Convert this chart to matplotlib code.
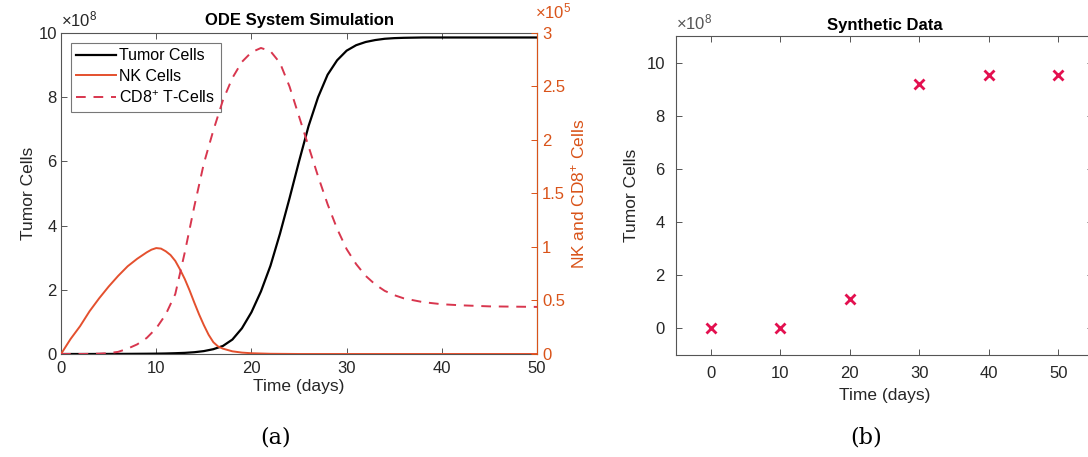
"""ODE simulation vs synthetic tumor data."""

import matplotlib
matplotlib.use("Agg")
import matplotlib.pyplot as plt

# simulation output (tumor in 1e8, NK / CD8 in 1e5)
days = list(range(0, 37)) + [38, 40, 42, 45, 50]
tumor = [0, 0, 0, 0, 0.001, 0.002, 0.003, 0.004, 0.006, 0.008,
         0.011, 0.016, 0.024, 0.035, 0.055, 0.09, 0.15, 0.25, 0.45, 0.8,
         1.3, 1.95, 2.75, 3.75, 4.85, 6.0, 7.1, 8.0, 8.7, 9.15,
         9.45, 9.62, 9.72, 9.78, 9.82, 9.84, 9.85, 9.86, 9.86, 9.86, 9.86, 9.86]
cd8 = [0, 0, 0, 0.001, 0.003, 0.008, 0.02, 0.05, 0.09, 0.15,
       0.24, 0.37, 0.56, 0.95, 1.38, 1.78, 2.09, 2.37, 2.58, 2.73,
       2.82, 2.86, 2.83, 2.72, 2.50, 2.22, 1.94, 1.66, 1.40, 1.17,
       0.98, 0.84, 0.73, 0.65, 0.59, 0.55, 0.52, 0.485, 0.465, 0.455, 0.445, 0.44]

# NK read on a finer grid around its peak
nk_days = [0, 1, 2, 3, 4, 5, 6, 7, 8, 8.5, 9, 9.5, 10, 10.5, 11, 11.5, 12,
           12.5, 13, 13.5, 14, 14.5, 15, 15.5, 16, 16.5, 17, 18, 19, 20,
           22, 25, 50]
nk = [0, 0.14, 0.26, 0.40, 0.52, 0.63, 0.73, 0.82, 0.89, 0.92, 0.95, 0.975,
      0.99, 0.985, 0.96, 0.925, 0.87, 0.79, 0.70, 0.595, 0.48, 0.37, 0.27,
      0.18, 0.11, 0.07, 0.05, 0.025, 0.013, 0.007, 0.002, 0, 0]

# synthetic observations (1e8)
obs_days = [0, 10, 20, 30, 40, 50]
obs_tumor = [0.0, 0.02, 1.1, 9.2, 9.55, 9.55]

plt.rcParams["font.family"] = ["Liberation Sans", "DejaVu Sans"]
plt.rcParams["mathtext.fontset"] = "custom"
plt.rcParams["mathtext.rm"] = "Liberation Sans"
plt.rcParams["mathtext.it"] = "Liberation Sans:italic"

AX_COL = "#555555"
TXT_COL = "#262626"
ORANGE = "#D95319"


def matlab_axes(ax, pad=3):
    for sp in ax.spines.values():
        sp.set_color(AX_COL)
        sp.set_linewidth(0.8)
    ax.tick_params(direction="in", length=4, width=0.7, colors=AX_COL,
                   labelcolor=TXT_COL, labelsize=12, top=True, pad=pad)


fig = plt.figure(figsize=(10.88, 4.57), dpi=100)

# (a) ODE simulation
ax = fig.add_axes([0.0561, 0.2254, 0.4375, 0.7024])
matlab_axes(ax)
ax.tick_params(axis="x", pad=5)
ax.tick_params(right=False)
ax2 = ax.twinx()
l1, = ax.plot(days, tumor, color="black", lw=1.6, label="Tumor Cells")
l2, = ax2.plot(nk_days, nk, color="#E4502E", lw=1.4, label="NK Cells")
l3, = ax2.plot(days, cd8, color="#D8364E", lw=1.4, ls=(0, (5, 4)),
               label="CD8$^{+}$ T-Cells")
ax.set_xlim(0, 50)
ax.set_ylim(0, 10)
ax.set_xticks(range(0, 51, 10))
ax.set_yticks(range(0, 11, 2))
ax2.set_ylim(0, 3)
ax2.set_yticks([0, 0.5, 1, 1.5, 2, 2.5, 3])
ax2.set_yticklabels(["0", "0.5", "1", "1.5", "2", "2.5", "3"])
for sp in ax2.spines.values():
    sp.set_visible(False)
ax2.spines["right"].set_visible(True)
ax2.spines["right"].set_color(ORANGE)
ax2.spines["right"].set_linewidth(0.8)
ax2.tick_params(direction="in", length=4, width=0.7, colors=ORANGE,
                labelcolor=ORANGE, labelsize=12)
ax.set_xlabel("Time (days)", fontsize=12.5, color=TXT_COL, labelpad=2)
ax.set_ylabel("Tumor Cells", fontsize=12.5, color=TXT_COL, labelpad=2)
ax2.set_ylabel("NK and CD8$^{+}$ Cells", fontsize=12.5, color=ORANGE, labelpad=3)
ax.set_title("ODE System Simulation", fontsize=12, fontweight="bold", pad=6)
ax.text(0.0, 1.01, r"$\times10^{8}$", transform=ax.transAxes, fontsize=12,
        color=TXT_COL, ha="left", va="bottom")
ax2.text(0.995, 1.035, r"$\times10^{5}$", transform=ax2.transAxes, fontsize=12,
         color=ORANGE, ha="left", va="bottom")
leg = ax.legend(handles=[l1, l2, l3], loc="upper left", fontsize=11.5,
                frameon=True, fancybox=False, edgecolor=AX_COL,
                handlelength=2.5, handletextpad=0.2, borderaxespad=0.6,
                labelspacing=0.35, borderpad=0.35)
leg.get_frame().set_linewidth(0.8)

# (b) synthetic data
bx = fig.add_axes([0.6213, 0.2232, 0.3833, 0.698])
matlab_axes(bx, pad=8)
bx.tick_params(right=True)
bx.plot(obs_days, obs_tumor, ls="none", marker="x", color="#E3104F",
        markersize=7, mew=2)
bx.set_xlim(-5, 55)
bx.set_ylim(-1, 11)
bx.set_xticks(range(0, 51, 10))
bx.set_yticks(range(0, 11, 2))
bx.set_xlabel("Time (days)", fontsize=12.5, color=TXT_COL, labelpad=5)
bx.set_ylabel("Tumor Cells", fontsize=12.5, color=TXT_COL, labelpad=5)
bx.set_title("Synthetic Data", fontsize=12, fontweight="bold", pad=4)
bx.text(0.0, 1.01, r"$\times10^{8}$", transform=bx.transAxes, fontsize=12,
        color=AX_COL, ha="left", va="bottom")

fig.text(0.2537, 0.03, "(a)", family=["DejaVu Serif"], fontsize=16, ha="center")
fig.text(0.796, 0.03, "(b)", family=["DejaVu Serif"], fontsize=16, ha="center")

fig.savefig("out.png", dpi=100)
